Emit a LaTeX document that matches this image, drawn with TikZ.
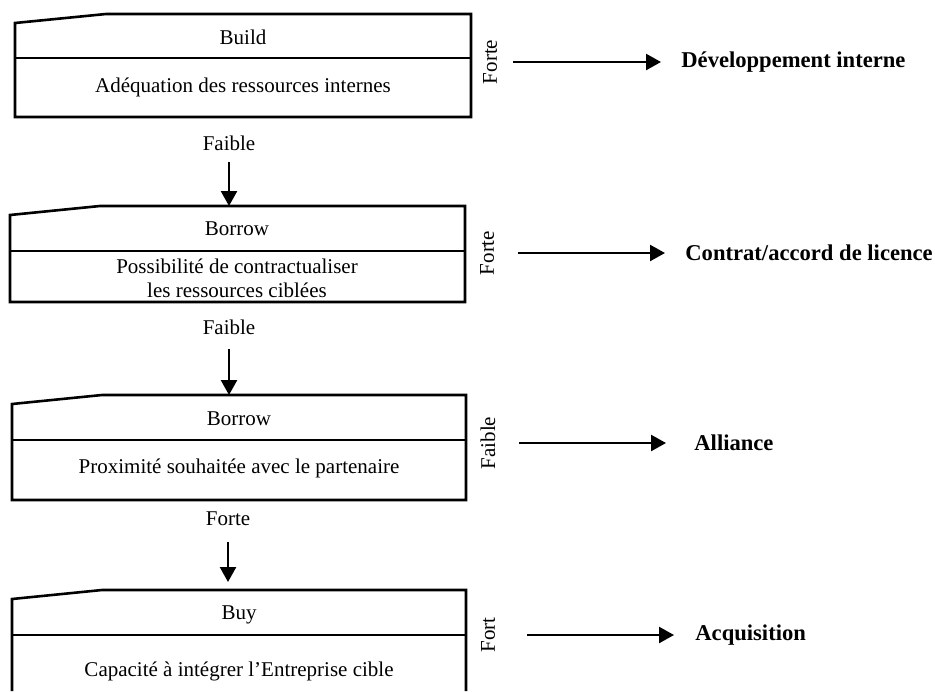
\documentclass[tikz,border=0pt]{standalone}
\usepackage{fontspec}
\setmainfont{Liberation Serif}
\usetikzlibrary{arrows.meta}

\begin{document}
\begin{tikzpicture}[x=0.5pt, y=-0.5pt,
	boxline/.style={line width=1.3pt, line join=miter},
	txt/.style={font=\fontsize{10.5}{12}\selectfont, align=center},
	vlbl/.style={font=\fontsize{10.5}{12}\selectfont, inner sep=0pt},
	side/.style={font=\fontsize{10.5}{12}\selectfont, rotate=90, inner sep=0pt},
	res/.style={font=\fontsize{11.3}{13.5}\selectfont\bfseries, anchor=west, inner sep=0pt},
	arr/.style={line width=1.2pt, -{Triangle[length=7.5pt, width=8pt]}}]
	\useasboundingbox (0,0) rectangle (935,691);

	\draw [boxline] (15,117) -- (15,23) -- (106,14) -- (471,14) -- (471,117) -- cycle;
	\draw [boxline] (15,58) -- (471,58);
	\node [txt] (H1) at (243,37) {Build};
	\node [txt] (C1) at (243,87) {Adéquation des ressources internes};

	\draw [boxline] (10,302) -- (10,215) -- (100,206) -- (465,206) -- (465,302) -- cycle;
	\draw [boxline] (10,251) -- (465,251);
	\node [txt] (H2) at (237,229) {Borrow};
	\node [txt] (C2) at (237,278) {Possibilité de contractualiser\\les ressources ciblées};

	\draw [boxline] (12,500) -- (12,404) -- (102,395) -- (466,395) -- (466,500) -- cycle;
	\draw [boxline] (12,440) -- (466,440);
	\node [txt] (H3) at (239,419) {Borrow};
	\node [txt] (C3) at (239,468) {Proximité souhaitée avec le partenaire};

	\draw [boxline] (12,691) -- (12,599) -- (102,590) -- (466,590) -- (466,691);
	\draw [boxline] (12,635) -- (466,635);
	\node [txt] (H4) at (239,615) {Buy};
	\node [txt] (C4) at (239,671) {Capacité à intégrer l’Entreprise cible};

	\node [vlbl] (V1) at (229,143) {Faible};
	\node [vlbl] (V2) at (229,327) {Faible};
	\node [vlbl] (V3) at (228,519) {Forte};
	\coordinate (T2) at (229,206);
	\coordinate (T3) at (229,395);
	\coordinate (T4) at (228,590);
	\draw [arr, shorten <=5.5pt] (V1) -- (T2);
	\draw [arr, shorten <=7pt] (V2) -- (T3);
	\draw [arr, shorten <=8pt, shorten >=4pt] (V3) -- (T4);

	\node [side] (S1) at (490,62) {Forte};
	\node [side] (S2) at (487,253) {Forte};
	\node [side] (S3) at (488,443) {Faible};
	\node [side] (S4) at (488,635) {Fort};
	\node [res] (R1) at (681,62) {Développement interne};
	\node [res] (R2) at (685,253) {Contrat/accord de licence};
	\node [res] (R3) at (694,443) {Alliance};
	\node [res] (R4) at (695,635) {Acquisition};
	\draw [arr, shorten <=8pt, shorten >=10pt] (S1) -- (R1);
	\draw [arr, shorten <=12pt, shorten >=10pt] (S2) -- (R2);
	\draw [arr, shorten <=11.5pt, shorten >=14pt] (S3) -- (R3);
	\draw [arr, shorten <=16pt, shorten >=10.5pt] (S4) -- (R4);

\end{tikzpicture}
\end{document}
